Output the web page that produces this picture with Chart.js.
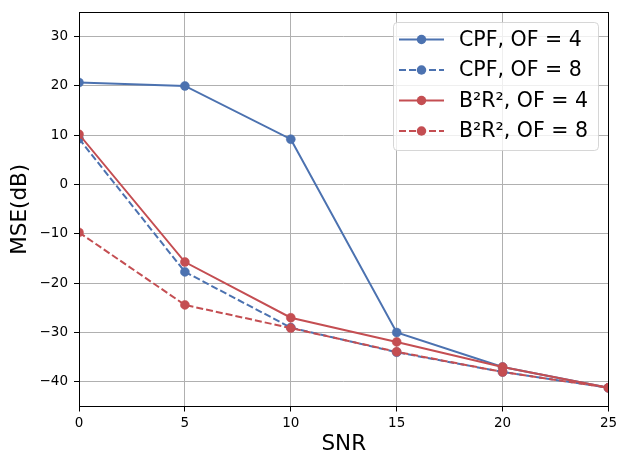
<!DOCTYPE html>
<html><head><meta charset="utf-8">
<script src="https://cdn.jsdelivr.net/npm/chart.js@4"></script>
<style>html,body{margin:0;padding:0;background:#fff}#wrap{width:618px;height:455px}</style>
</head><body><div id="wrap"><canvas id="c" width="618" height="455"></canvas></div>
<script>
const snr = [0, 5, 10, 15, 20, 25];
const cpfOF4 = [20.7, 20.0, 9.2, -30.0, -37.0, -41.2];
const cpfOF8 = [9.3, -17.7, -29.0, -34.0, -38.0, -41.2];
const b2r2OF4 = [10.2, -15.7, -27.0, -31.9, -37.0, -41.2];
const b2r2OF8 = [-9.7, -24.4, -29.1, -33.9, -38.0, -41.2];
const xTicks = [0, 5, 10, 15, 20, 25];
const yTicks = [-40, -30, -20, -10, 0, 10, 20, 30];
const seriesLabels = ['CPF, OF = 4', 'CPF, OF = 8', 'B²R², OF = 4', 'B²R², OF = 8'];

const BLUE = '#4C72B0', RED = '#C44E52';
const FONT = 'DejaVu Sans';

function mk(label, vals, color, dashed, order) {
  return {
    label, data: snr.map((x, i) => ({x, y: vals[i]})),
    borderColor: color, backgroundColor: color, borderWidth: 2,
    borderDash: dashed ? [7, 3] : [], pointRadius: 4.5, pointBorderWidth: 0.5,
    pointBackgroundColor: color, pointBorderColor: color,
    tension: 0, clip: 0, order
  };
}

function zeroPad(s) { s.paddingLeft = 0; s.paddingRight = 0; s.paddingTop = 0; s.paddingBottom = 0; }

const spines = {
  id: 'spines',
  afterDatasetsDraw(chart) {
    const {ctx, chartArea: a} = chart;
    ctx.save();
    ctx.strokeStyle = '#000'; ctx.lineWidth = 1;
    const l = Math.round(a.left) + 0.5, t = Math.round(a.top) + 0.5;
    const r = Math.round(a.right) - 0.5, b = Math.round(a.bottom) - 0.5;
    ctx.strokeRect(l, t, r - l, b - t);
    ctx.restore();
  }
};

const innerLegend = {
  id: 'innerLegend',
  afterDraw(chart) {
    const {ctx, chartArea: a} = chart;
    const w = 205, h = 128;
    const x0 = Math.round(a.right) - 11 - w, y0 = Math.round(a.top) + 10;
    ctx.save();
    ctx.beginPath();
    ctx.roundRect(x0 + 0.5, y0 + 0.5, w, h, 4);
    ctx.fillStyle = 'rgba(255,255,255,0.8)';
    ctx.fill();
    ctx.strokeStyle = 'rgba(204,204,204,0.8)';
    ctx.lineWidth = 1;
    ctx.stroke();
    chart.data.datasets.forEach((ds, i) => {
      const cy = y0 + 17.5 + i * 30.5;
      ctx.beginPath();
      ctx.setLineDash(ds.borderDash || []);
      ctx.strokeStyle = ds.borderColor; ctx.lineWidth = 2;
      ctx.moveTo(x0 + 6, cy); ctx.lineTo(x0 + 51, cy);
      ctx.stroke();
      ctx.setLineDash([]);
      ctx.beginPath();
      ctx.arc(x0 + 28.5, cy, 4.75, 0, Math.PI * 2);
      ctx.fillStyle = ds.borderColor; ctx.fill();
      ctx.fillStyle = '#000';
      ctx.font = '20.5px "' + FONT + '"';
      ctx.textBaseline = 'middle';
      ctx.textAlign = 'left';
      ctx.fillText(ds.label, x0 + 66, cy + 1);
    });
    ctx.restore();
  }
};

new Chart(document.getElementById('c'), {
  type: 'line',
  data: {
    datasets: [
      mk(seriesLabels[0], cpfOF4, BLUE, false, 3),
      mk(seriesLabels[1], cpfOF8, BLUE, true, 2),
      mk(seriesLabels[2], b2r2OF4, RED, false, 1),
      mk(seriesLabels[3], b2r2OF8, RED, true, 0)
    ]
  },
  options: {
    responsive: false, animation: false, devicePixelRatio: 1,
    layout: {padding: {top: 12, right: 9.5, left: 0, bottom: 0}},
    plugins: {legend: {display: false}, tooltip: {enabled: false}},
    scales: {
      x: {
        type: 'linear', min: 0, max: 25,
        afterBuildTicks: s => { s.ticks = xTicks.map(v => ({value: v})); },
        afterFit: s => { s.height = 48.5; zeroPad(s); },
        grid: {color: '#b0b0b0', lineWidth: 1, tickColor: '#000', tickLength: 5, drawTicks: true},
        border: {display: false},
        ticks: {color: '#000', font: {family: FONT, size: 13.5}, padding: 4, maxRotation: 0, autoSkip: false},
        title: {display: true, text: 'SNR', color: '#000', font: {family: FONT, size: 21.5, lineHeight: 1}, padding: {top: 0, bottom: 0}}
      },
      y: {
        type: 'linear', min: -45, max: 35,
        afterBuildTicks: s => { s.ticks = yTicks.map(v => ({value: v})); },
        afterFit: s => { s.width = 79; zeroPad(s); },
        grid: {color: '#b0b0b0', lineWidth: 1, tickColor: '#000', tickLength: 5, drawTicks: true},
        border: {display: false},
        ticks: {color: '#000', font: {family: FONT, size: 13.5}, padding: 6, autoSkip: false,
          callback: v => (v < 0 ? '\u2212' + Math.abs(v) : '' + v)},
        title: {display: true, text: 'MSE(dB)', color: '#000', font: {family: FONT, size: 21.5, lineHeight: 1}, padding: {top: 10, bottom: 0}}
      }
    }
  },
  plugins: [spines, innerLegend]
});
</script>
</body></html>
